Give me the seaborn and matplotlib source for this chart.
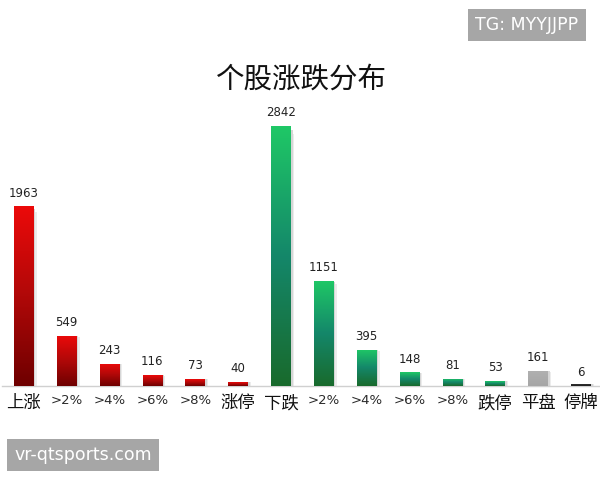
import numpy as np
import pandas as pd
import matplotlib
matplotlib.use("Agg")
import matplotlib.pyplot as plt
from matplotlib.colors import LinearSegmentedColormap
import seaborn as sns

# Data
categories = ["上涨", ">2%", ">4%", ">6%", ">8%", "涨停",
              "下跌", ">2% ", ">4% ", ">6% ", ">8% ", "跌停",
              "平盘", "停牌"]
counts = [1963, 549, 243, 116, 73, 40,
          2842, 1151, 395, 148, 81, 53,
          161, 6]
groups = ["up"] * 6 + ["down"] * 6 + ["flat", "halt"]

sns.set_theme(style="white")
plt.rcParams["font.family"] = ["Noto Sans CJK SC", "DejaVu Sans"]

df = pd.DataFrame({"cat": categories, "n": counts, "grp": groups})

fig = plt.figure(figsize=(6, 4.8), dpi=100)
ax = fig.add_axes([0.004, 0.196, 1.0, 0.60])

sns.barplot(data=df, x="cat", y="n", color="#cc0000", width=0.46,
            ax=ax, saturation=1)

cmaps = {
    "up": LinearSegmentedColormap.from_list("up", ["#6e0000", "#b00808", "#ec0a0a"]),
    "down": LinearSegmentedColormap.from_list("down", ["#196a2c", "#14876a", "#1fc866"]),
    "flat": LinearSegmentedColormap.from_list("flat", ["#a6a6a6", "#b0b0b0"]),
    "halt": LinearSegmentedColormap.from_list("halt", ["#202020", "#303030"]),
}

ax.set_ylim(0, 3150)
ax.set_xlim(-0.5, len(categories) - 0.5)

grad = np.linspace(0, 1, 256).reshape(-1, 1)
for patch, grp, n in zip(ax.patches, groups, counts):
    x0, w = patch.get_x(), patch.get_width()
    h = patch.get_height()
    patch.set_facecolor("none")
    patch.set_edgecolor("none")
    hh = max(h, 20)
    im = ax.imshow(grad, cmap=cmaps[grp], origin="lower", aspect="auto",
                   extent=(x0, x0 + w, 0, hh), zorder=3)
    clip = plt.Rectangle((x0, 0), w, hh, transform=ax.transData)
    im.set_clip_path(clip)
    # soft shadow on the right side of each bar
    ax.add_patch(plt.Rectangle((x0 + w, 0), 0.04, hh * 0.985, facecolor="#d6d6d6",
                               edgecolor="none", zorder=2))
    ax.add_patch(plt.Rectangle((x0 + w + 0.04, 0), 0.03, hh * 0.97, facecolor="#ececec",
                               edgecolor="none", zorder=2))
    ax.text(x0 + w / 2, n + 75, str(n), ha="center", va="bottom",
            fontsize=8.5, color="#222222", family=["DejaVu Sans"])

ax.set_xlabel("")
ax.set_ylabel("")
ax.set_yticks([])
ax.set_xticks(range(len(categories)))
ax.set_xticklabels([c.strip() for c in categories])
for lab in ax.get_xticklabels():
    if lab.get_text().startswith(">"):
        lab.set_fontsize(9.5)
        lab.set_color("#2a2a2a")
        lab.set_family(["DejaVu Sans"])
    else:
        lab.set_fontsize(12.5)
        lab.set_color("#111111")
ax.tick_params(axis="x", length=0, pad=6)
for s in ["top", "left", "right"]:
    ax.spines[s].set_visible(False)
ax.spines["bottom"].set_color("#d0d0d0")
ax.spines["bottom"].set_linewidth(1)

fig.text(0.502, 0.835, "个股涨跌分布", ha="center", va="center",
         fontsize=20.5, color="#111111", fontweight="light")

# corner tags
fig.text(0.8783, 0.948, "TG: MYYJJPP", ha="center", va="center", fontsize=12.5,
         color="white", family=["DejaVu Sans"],
         bbox=dict(boxstyle="square,pad=0.42", facecolor="#a6a6a6", edgecolor="none"))
fig.text(0.138, 0.0521, "vr-qtsports.com", ha="center", va="center", fontsize=12.5,
         color="white", family=["DejaVu Sans"],
         bbox=dict(boxstyle="square,pad=0.42", facecolor="#a6a6a6", edgecolor="none"))

fig.savefig("out.png", dpi=100)
